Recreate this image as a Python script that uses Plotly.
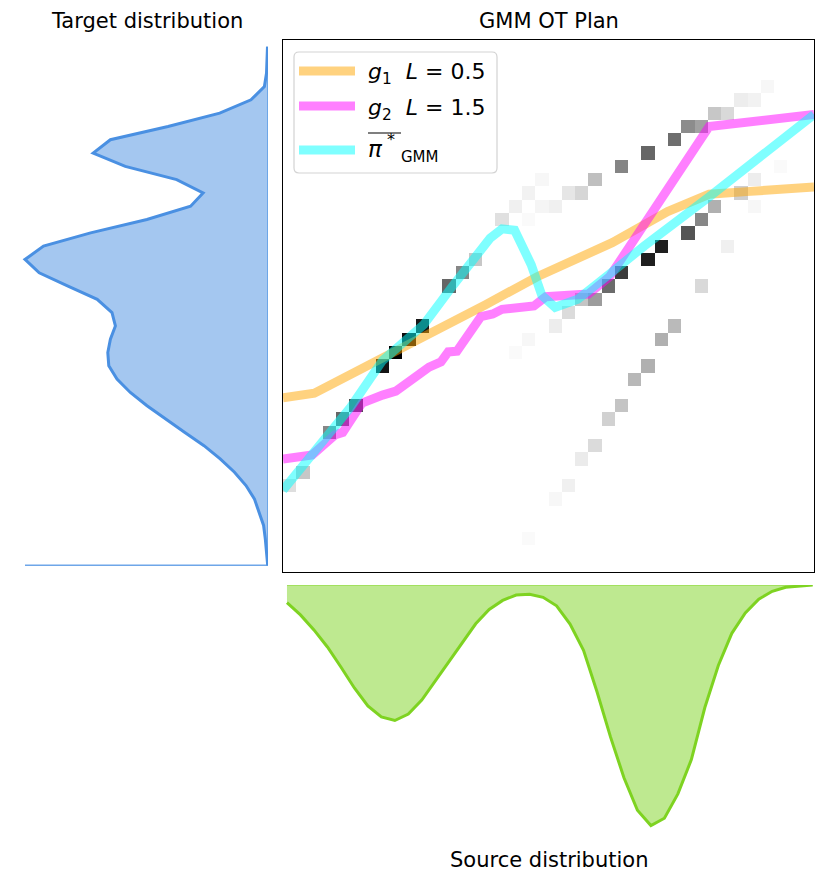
import numpy as np
import plotly.graph_objects as go

W, H = 830, 886

# ---------------- data ----------------
# OT plan cells (source index, target index, mass)
plan_source_idx = [0, 1, 3, 4, 5, 7, 8, 9, 10, 12, 13, 14, 16, 17, 18, 19, 18, 19, 20, 21,
                   22, 23, 25, 27, 29, 30, 31, 32, 33, 34, 35, 36, 37, 35, 35, 34, 32, 31, 30, 28,
                   27, 33, 25, 24, 23, 22, 21, 20, 18, 17, 31, 29, 28, 27, 26, 25, 24, 23, 22, 21,
                   20, 18]
plan_target_idx = [6, 7, 10, 11, 12, 15, 16, 17, 18, 21, 22, 23, 26, 27, 28, 29, 26, 27, 27, 28,
                   28, 29, 30, 31, 32, 33, 33, 34, 34, 35, 35, 36, 30, 29, 27, 28, 27, 26, 25, 24,
                   23, 24, 22, 21, 20, 20, 19, 18, 17, 16, 21, 18, 17, 15, 14, 12, 11, 9, 8, 6,
                   5, 2]
plan_mass = [0.13, 0.22, 0.47, 0.60, 0.70, 0.92, 1.00, 0.95, 0.90, 0.60, 0.47, 0.22, 0.12, 0.06, 0.05, 0.03, 0.02, 0.04, 0.06, 0.10,
             0.16, 0.25, 0.48, 0.60, 0.57, 0.45, 0.37, 0.22, 0.15, 0.07, 0.05, 0.03, 0.02, 0.07, 0.03, 0.19, 0.31, 0.47, 0.67, 0.88,
             0.88, 0.06, 0.77, 0.58, 0.39, 0.23, 0.14, 0.07, 0.03, 0.02, 0.15, 0.27, 0.31, 0.31, 0.28, 0.23, 0.18, 0.14, 0.08, 0.06,
             0.03, 0.02]

# target distribution (40 bins, arbitrary units)
target_density = [0.0003, 0.0012, 0.0027, 0.0044, 0.0087, 0.0136, 0.0220, 0.0335, 0.0478, 0.0640,
                  0.0835, 0.1020, 0.1210, 0.1377, 0.1510, 0.1592, 0.1602, 0.1576, 0.1526, 0.1560,
                  0.1708, 0.2000, 0.2288, 0.2430, 0.2245, 0.1774, 0.1211, 0.0774, 0.0649, 0.0913,
                  0.1427, 0.1748, 0.1576, 0.1000, 0.0483, 0.0170, 0.0036, 0.0015, 0.0008, 0.0005]

# source distribution (40 bins, arbitrary units)
source_density = [0.0176, 0.0299, 0.0449, 0.0620, 0.0820, 0.1030, 0.1210, 0.1320, 0.1355, 0.1290,
                  0.1150, 0.0960, 0.0767, 0.0573, 0.0388, 0.0245, 0.0154, 0.0100, 0.0092, 0.0123,
                  0.0208, 0.0390, 0.0653, 0.1067, 0.1519, 0.1927, 0.2252, 0.2405, 0.2332, 0.2089,
                  0.1746, 0.1225, 0.0805, 0.0483, 0.0280, 0.0142, 0.0063, 0.0022, 0.0010, 0.0000]

# maps (x = source coordinate, y = target coordinate, in plan-cell units)
g1_x = [-0.5, 1.86, 7.02, 11.68, 14.76, 18.65, 24.3, 28.47, 31.6, 34.4, 39.5]
g1_y = [12.6, 12.94, 15.6, 17.9, 19.6, 21.7, 24.26, 26.6, 27.9, 28.1, 28.45]

g2_x = [-0.5, 1.7, 3.4, 4.0, 5.45, 6.3, 7.0, 8.0, 8.8, 9.8, 10.5, 11.4, 11.95, 12.6, 14.4,
        15.3, 16.0, 18.4, 19.3, 22.5, 24.1, 25.1, 31.6, 39.5]
g2_y = [8.0, 8.3, 9.8, 10.0, 12.2, 12.6, 12.8, 13.1, 13.6, 14.4, 14.9, 15.3, 16.05, 16.1, 18.7,
        18.9, 19.25, 19.5, 20.2, 20.4, 21.7, 23.2, 33.0, 33.9]

gmm_x = [-0.5, 1.86, 4.6, 7.0, 10.1, 12.2, 14.1, 15.1, 16.0, 16.95, 18.2, 19.0, 20.0, 21.7,
         24.1, 26.7, 31.6, 39.5]
gmm_y = [5.65, 8.6, 11.9, 15.4, 18.1, 20.9, 23.3, 24.6, 25.3, 25.2, 22.6, 20.3, 19.4, 20.0,
         21.9, 24.0, 27.7, 33.9]

N = 40
# ---------------- figure ----------------
def px(x):
    return x / W


def py(y):
    return 1 - y / H


z = np.zeros((N, N))
for s, t, m in zip(plan_source_idx, plan_target_idx, plan_mass):
    z[t, s] = m

BLUE = "#4A90E2"
GREEN = "#7ED321"
LW = 9

fig = go.Figure()

# OT plan heatmap
fig.add_trace(go.Heatmap(
    z=z, x=np.arange(N), y=np.arange(N),
    colorscale=[[0, "#ffffff"], [1, "#000000"]], zmin=0, zmax=1,
    showscale=False, hoverinfo="skip", xaxis="x", yaxis="y"))

fig.add_trace(go.Scatter(x=g1_x, y=g1_y, mode="lines",
                         line=dict(color="rgba(255,165,0,0.5)", width=LW),
                         xaxis="x", yaxis="y", showlegend=False))
fig.add_trace(go.Scatter(x=g2_x, y=g2_y, mode="lines",
                         line=dict(color="rgba(255,0,255,0.5)", width=LW),
                         xaxis="x", yaxis="y", showlegend=False))
fig.add_trace(go.Scatter(x=gmm_x, y=gmm_y, mode="lines",
                         line=dict(color="rgba(0,255,255,0.5)", width=LW),
                         xaxis="x", yaxis="y", showlegend=False))

# target distribution (left)
tgt_y = np.arange(N)
fig.add_trace(go.Scatter(x=target_density, y=tgt_y, mode="lines", fill="tozerox",
                         fillcolor="rgba(74,144,226,0.5)", line=dict(color=BLUE, width=3),
                         xaxis="x2", yaxis="y2", showlegend=False))
fig.add_trace(go.Scatter(x=[0] * N, y=tgt_y, mode="lines",
                         line=dict(color="rgba(74,144,226,0.8)", width=1.5),
                         xaxis="x2", yaxis="y2", showlegend=False))
fig.add_trace(go.Scatter(x=[0, max(target_density)], y=[0, 0], mode="lines",
                         line=dict(color="rgba(74,144,226,0.8)", width=1.5),
                         xaxis="x2", yaxis="y2", showlegend=False))

# source distribution (bottom)
src_x = np.linspace(-0.2, 39.4, N)
fig.add_trace(go.Scatter(x=src_x, y=source_density, mode="lines", fill="tozeroy",
                         fillcolor="rgba(126,211,33,0.5)", line=dict(color=GREEN, width=3),
                         xaxis="x3", yaxis="y3", showlegend=False))
fig.add_trace(go.Scatter(x=src_x, y=[0] * N, mode="lines",
                         line=dict(color="rgba(126,211,33,0.6)", width=1.5),
                         xaxis="x3", yaxis="y3", showlegend=False))

noax = dict(showgrid=False, zeroline=False, showticklabels=False, ticks="", showline=False)

fig.update_layout(
    width=W, height=H, margin=dict(l=0, r=0, t=0, b=0),
    paper_bgcolor="white", plot_bgcolor="rgba(0,0,0,0)",
    font=dict(family="DejaVu Sans", color="black"),
    xaxis=dict(domain=[px(283), px(814)], range=[-0.5, N - 0.5], showgrid=False, zeroline=False,
               showticklabels=False, ticks="", showline=True, mirror=True, linecolor="black", linewidth=1.3),
    yaxis=dict(domain=[py(572), py(40)], range=[-0.5, N - 0.5], showgrid=False, zeroline=False,
               showticklabels=False, ticks="", showline=True, mirror=True, linecolor="black", linewidth=1.3),
    xaxis2=dict(domain=[0, px(268)], range=[0.268, 0], anchor="y2", **noax),
    yaxis2=dict(domain=[py(572), py(40)], range=[-0.5, N - 0.5], anchor="x2", **noax),
    xaxis3=dict(domain=[px(283), px(814)], range=[-0.5, N - 0.5], anchor="y3", **noax),
    yaxis3=dict(domain=[0, py(585)], range=[0.301, 0], anchor="x3", **noax),
    showlegend=False,
)

# titles
for txt, x, y in [("Target distribution", 146.5, 21), ("GMM OT Plan", 548.5, 21),
                  ("Source distribution", 548.5, 860)]:
    fig.add_annotation(text=txt, x=px(x), y=py(y), xref="paper", yref="paper",
                       xanchor="center", yanchor="middle", showarrow=False,
                       font=dict(size=21, family="DejaVu Sans", color="black"))

# manual legend
x0, y0, x1, y1, r = 294, 52, 497, 173, 5
path = (f"M {px(x0 + r)},{py(y0)} L {px(x1 - r)},{py(y0)} Q {px(x1)},{py(y0)} {px(x1)},{py(y0 + r)} "
        f"L {px(x1)},{py(y1 - r)} Q {px(x1)},{py(y1)} {px(x1 - r)},{py(y1)} "
        f"L {px(x0 + r)},{py(y1)} Q {px(x0)},{py(y1)} {px(x0)},{py(y1 - r)} "
        f"L {px(x0)},{py(y0 + r)} Q {px(x0)},{py(y0)} {px(x0 + r)},{py(y0)} Z")
fig.add_shape(type="path", path=path, xref="paper", yref="paper", layer="above",
              line=dict(color="#d3d3d3", width=1.2), fillcolor="rgba(255,255,255,0.8)")

leg_rows = [("rgba(255,165,0,0.5)", 71, "<i>g</i><sub>1</sub>  <i>L</i> = 0.5"),
            ("rgba(255,0,255,0.5)", 106, "<i>g</i><sub>2</sub>  <i>L</i> = 1.5"),
            ("rgba(0,255,255,0.5)", 150, None)]
for col, yy, txt in leg_rows:
    fig.add_shape(type="line", x0=px(299), x1=px(355), y0=py(yy), y1=py(yy), xref="paper", yref="paper",
                  layer="above", line=dict(color=col, width=LW))
    if txt:
        fig.add_annotation(text=txt, x=px(366), y=py(yy + 3), xref="paper", yref="paper",
                           xanchor="left", yanchor="middle", showarrow=False,
                           font=dict(size=22, family="DejaVu Sans", color="black"))

fig.add_annotation(text="<i>π</i>", x=px(366), y=py(149), xref="paper", yref="paper",
                   xanchor="left", yanchor="middle", showarrow=False,
                   font=dict(size=23, family="DejaVu Sans", color="black"))
fig.add_annotation(text="*", x=px(385), y=py(139), xref="paper", yref="paper",
                   xanchor="left", yanchor="middle", showarrow=False,
                   font=dict(size=16, family="DejaVu Sans", color="black"))
fig.add_annotation(text="GMM", x=px(399), y=py(157), xref="paper", yref="paper",
                   xanchor="left", yanchor="middle", showarrow=False,
                   font=dict(size=15, family="DejaVu Sans", color="black"))
fig.add_shape(type="line", x0=px(368), x1=px(401), y0=py(133), y1=py(133), xref="paper", yref="paper",
              layer="above", line=dict(color="black", width=1.2))

fig.write_html("out.html", config={"displayModeBar": False},
               post_script="document.body.style.margin='0';document.body.style.overflow='hidden';")
